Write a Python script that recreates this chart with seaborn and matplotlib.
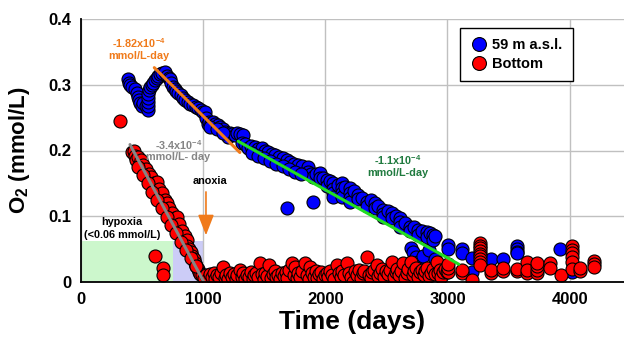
import matplotlib
matplotlib.use("Agg")
import matplotlib.pyplot as plt
import seaborn as sns
import pandas as pd
from matplotlib.patches import Rectangle
from matplotlib.lines import Line2D

# ---------------- data ----------------
blue_days = [387, 395, 401, 420, 442, 455, 468, 475, 483, 496, 510, 530, 548, 548, 548, 548, 550, 558,
             565, 578, 590, 605, 620, 632, 645, 665, 687, 705, 718, 728, 740, 755, 770, 780, 795, 815,
             836, 855, 877, 895, 918, 940, 958, 985, 1000, 1015, 1025, 1040, 1050, 1065, 1080, 1095,
             1120, 1140, 1163, 1180, 1205, 1220, 1240, 1260, 1280, 1300, 1327, 1320, 1345, 1370, 1395,
             1425, 1450, 1480, 1505, 1530, 1560, 1590, 1620, 1650, 1685, 1686, 1710, 1740, 1775, 1810,
             1857, 1857, 1880, 1900, 1900, 1920, 1955, 1955, 1980, 2010, 2010, 2040, 2065, 2065, 2065,
             2065, 2100, 2135, 2135, 2135, 2135, 2165, 2200, 2200, 2200, 2200, 2235, 2270, 2270, 2300,
             2340, 2340, 2370, 2405, 2405, 2435, 2470, 2470, 2470, 2510, 2545, 2545, 2575, 2610, 2610,
             2610, 2650, 2690, 2690, 2700, 2720, 2720, 2740, 2760, 2730, 2760, 2760, 2795, 2800, 2830,
             2830, 2850, 2860, 2880, 2880, 2900, 2900, 3005, 3005, 3120, 3120, 3200, 3200, 3360, 3455,
             3570, 3570, 3570, 3570, 3920, 4020,
             1060, 1110, 1160, 1400, 1450, 1500, 1550, 1600, 1650, 1700, 1750, 1800]
blue_o2 = [0.308, 0.303, 0.300, 0.296, 0.293, 0.288, 0.281, 0.277, 0.273, 0.268, 0.272, 0.268, 0.262,
           0.268, 0.274, 0.280, 0.286, 0.292, 0.296, 0.300, 0.303, 0.307, 0.311, 0.314, 0.316, 0.318,
           0.319, 0.314, 0.311, 0.308, 0.303, 0.297, 0.293, 0.290, 0.288, 0.284, 0.280, 0.277, 0.274,
           0.271, 0.269, 0.266, 0.265, 0.262, 0.258, 0.259, 0.250, 0.240, 0.244, 0.242, 0.244, 0.240,
           0.239, 0.236, 0.232, 0.228, 0.221, 0.226, 0.225, 0.224, 0.226, 0.225, 0.224, 0.212, 0.210,
           0.204, 0.207, 0.206, 0.203, 0.204, 0.200, 0.198, 0.195, 0.193, 0.190, 0.188, 0.186, 0.113,
           0.183, 0.180, 0.178, 0.176, 0.175, 0.168, 0.165, 0.160, 0.122, 0.164, 0.166, 0.158, 0.158,
           0.155, 0.146, 0.153, 0.151, 0.142, 0.136, 0.130, 0.148, 0.151, 0.143, 0.136, 0.130, 0.145,
           0.143, 0.135, 0.128, 0.122, 0.138, 0.133, 0.126, 0.128, 0.122, 0.115, 0.124, 0.120, 0.112,
           0.115, 0.110, 0.104, 0.099, 0.108, 0.105, 0.097, 0.100, 0.098, 0.091, 0.084, 0.090, 0.084,
           0.077, 0.052, 0.045, 0.030, 0.038, 0.030, 0.083, 0.079, 0.071, 0.078, 0.040, 0.076, 0.068,
           0.048, 0.074, 0.072, 0.064, 0.070, 0.035, 0.056, 0.050, 0.050, 0.044, 0.037, 0.015, 0.035,
           0.035, 0.054, 0.050, 0.046, 0.044, 0.050, 0.015,
           0.236, 0.232, 0.226, 0.196, 0.192, 0.189, 0.184, 0.180, 0.176, 0.172, 0.168, 0.165]

red_days = [318, 420, 430, 445, 450, 465, 480, 490, 500, 510, 520, 530, 540, 555, 565, 575, 590, 600,
            606, 610, 622, 630, 640, 655, 665, 671, 671, 680, 690, 703, 710, 720, 735, 745, 760, 770,
            785, 790, 800, 815, 830, 840, 850, 867, 870, 885, 900, 910, 925, 933, 945, 955, 965, 975,
            990, 1010, 1025, 1040, 1055, 1070, 1085, 1100, 1115, 1130, 1145, 1165, 1175, 1190, 1205,
            1220, 1235, 1250, 1265, 1280, 1300, 1315, 1330, 1345, 1360, 1375, 1390, 1405, 1420, 1435,
            1450, 1465, 1480, 1495, 1510, 1525, 1540, 1555, 1570, 1585, 1600, 1615, 1630, 1645, 1660,
            1675, 1690, 1705, 1725, 1740, 1750, 1765, 1780, 1795, 1810, 1835, 1850, 1865, 1875, 1890,
            1905, 1920, 1935, 1950, 1965, 1980, 1995, 2010, 2025, 2040, 2055, 2070, 2095, 2110, 2125,
            2140, 2155, 2180, 2195, 2210, 2230, 2245, 2260, 2275, 2290, 2305, 2320, 2340, 2355, 2370,
            2385, 2400, 2420, 2435, 2450, 2465, 2480, 2495, 2510, 2530, 2545, 2560, 2575, 2590, 2605,
            2620, 2635, 2650, 2665, 2680, 2700, 2715, 2730, 2745, 2760, 2775, 2790, 2805, 2820, 2835,
            2850, 2865, 2880, 2895, 2915, 2920, 2935, 2950, 2965, 2980, 2995, 3005, 3005, 3005, 3120,
            3120, 3200, 3265, 3265, 3265, 3265, 3265, 3265, 3265, 3265, 3265, 3360, 3360, 3455, 3455,
            3570, 3570, 3650, 3650, 3650, 3730, 3730, 3730, 3730, 3840, 3840, 3930, 4020, 4020, 4020,
            4020, 4020, 4020, 4085, 4085, 4200, 4200, 4200,
            470, 505, 545, 585, 625, 660, 700, 740, 780, 820, 860, 900, 940]
red_o2 = [0.245, 0.197, 0.200, 0.192, 0.186, 0.190, 0.180, 0.186, 0.174, 0.178, 0.168, 0.172, 0.160,
          0.165, 0.152, 0.160, 0.145, 0.150, 0.040, 0.138, 0.152, 0.132, 0.142, 0.125, 0.135, 0.022,
          0.010, 0.115, 0.125, 0.120, 0.108, 0.112, 0.098, 0.105, 0.090, 0.098, 0.099, 0.082, 0.088,
          0.075, 0.078, 0.065, 0.070, 0.064, 0.055, 0.050, 0.046, 0.040, 0.035, 0.029, 0.024, 0.020,
          0.015, 0.012, 0.010, 0.006, 0.010, 0.004, 0.012, 0.007, 0.014, 0.005, 0.010, 0.008, 0.013,
          0.023, 0.006, 0.011, 0.005, 0.014, 0.008, 0.012, 0.004, 0.010, 0.018, 0.007, 0.013, 0.005,
          0.011, 0.008, 0.015, 0.004, 0.010, 0.013, 0.007, 0.029, 0.012, 0.005, 0.014, 0.009, 0.026,
          0.006, 0.012, 0.016, 0.007, 0.011, 0.004, 0.013, 0.009, 0.015, 0.006, 0.018, 0.029, 0.010,
          0.023, 0.006, 0.014, 0.008, 0.016, 0.029, 0.011, 0.005, 0.023, 0.013, 0.008, 0.017, 0.006,
          0.012, 0.015, 0.004, 0.010, 0.014, 0.007, 0.016, 0.011, 0.005, 0.026, 0.013, 0.008, 0.017,
          0.011, 0.029, 0.014, 0.007, 0.000, 0.016, 0.010, 0.018, 0.006, 0.013, 0.017, 0.038, 0.011,
          0.006, 0.015, 0.019, 0.026, 0.009, 0.014, 0.020, 0.007, 0.016, 0.012, 0.019, 0.031, 0.008,
          0.015, 0.020, 0.011, 0.017, 0.029, 0.006, 0.014, 0.020, 0.030, 0.010, 0.016, 0.021, 0.008,
          0.015, 0.019, 0.011, 0.017, 0.022, 0.009, 0.014, 0.020, 0.012, 0.031, 0.014, 0.018, 0.008,
          0.015, 0.020, 0.015, 0.015, 0.022, 0.028, 0.013, 0.018, 0.003, 0.059, 0.055, 0.051, 0.047,
          0.043, 0.039, 0.035, 0.031, 0.026, 0.013, 0.018, 0.016, 0.021, 0.016, 0.020, 0.030, 0.013,
          0.018, 0.013, 0.018, 0.024, 0.029, 0.029, 0.022, 0.011, 0.054, 0.048, 0.044, 0.038, 0.031,
          0.020, 0.016, 0.022, 0.032, 0.028, 0.023,
          0.175, 0.163, 0.150, 0.137, 0.124, 0.112, 0.099, 0.087, 0.074, 0.061, 0.049, 0.037, 0.025]

# trend lines (fitted rates)
orange_days = [600, 1300]
orange_o2 = [0.326, 0.197]
green_days = [1287, 3093]
green_o2 = [0.214, 0.027]
gray_days = [401, 1006]
gray_o2 = [0.209, 0.0]

hypoxia_limit = 0.0625
hypoxia_end = 750
anoxia_day = 1000

series_labels = ["59 m a.s.l.", "Bottom"]
x_ticks = [0, 1000, 2000, 3000, 4000]
y_ticks = [0, 0.1, 0.2, 0.3, 0.4]
y_tick_labels = ["0", "0.1", "0.2", "0.3", "0.4"]

# ---------------- style ----------------
sns.set_style("white")
plt.rcParams["font.family"] = ["Liberation Sans", "DejaVu Sans"]
plt.rcParams["font.weight"] = "bold"
plt.rcParams["text.color"] = "black"
plt.rcParams["axes.labelcolor"] = "black"
plt.rcParams["xtick.color"] = "black"
plt.rcParams["ytick.color"] = "black"
plt.rcParams["mathtext.fontset"] = "custom"
plt.rcParams["mathtext.rm"] = "Liberation Sans:bold"
plt.rcParams["mathtext.it"] = "Liberation Sans:bold"
plt.rcParams["mathtext.bf"] = "Liberation Sans:bold"

ORANGE = "#f07a1a"
GREEN_LINE = "#22dd22"
GREEN_TXT = "#1f7a3e"
GRAY = "#858585"

fig = plt.figure(figsize=(6.24, 3.37), dpi=100)
ax = fig.add_axes([81 / 624, 55 / 337, 543 / 624, 263 / 337])

# shaded regions
ax.add_patch(Rectangle((0, 0), hypoxia_end, hypoxia_limit, facecolor="#ccf7cc", edgecolor="none", zorder=0))
ax.add_patch(Rectangle((hypoxia_end, 0), anoxia_day - hypoxia_end, hypoxia_limit,
                       facecolor="#ccccf7", edgecolor="none", zorder=0))

blue_df = pd.DataFrame({"day": blue_days, "o2": blue_o2})
red_df = pd.DataFrame({"day": red_days, "o2": red_o2})

sns.scatterplot(data=blue_df, x="day", y="o2", ax=ax, color="#0000ff", edgecolor="black",
                linewidth=0.8, s=88, zorder=3, legend=False)
sns.scatterplot(data=red_df, x="day", y="o2", ax=ax, color="#ff0000", edgecolor="black",
                linewidth=0.8, s=88, zorder=3.5, legend=False)

sns.lineplot(x=orange_days, y=orange_o2, ax=ax, color=ORANGE, lw=2.2, zorder=5)
sns.lineplot(x=green_days, y=green_o2, ax=ax, color=GREEN_LINE, lw=2.2, zorder=5)
sns.lineplot(x=gray_days, y=gray_o2, ax=ax, color=GRAY, lw=2.2, zorder=5)

# annotations
fs = 7.8
ax.text(470, 0.363, r"-1.82x10$^{-4}$", color=ORANGE, fontsize=fs, ha="center", va="center", fontweight="bold")
ax.text(470, 0.343, "mmol/L-day", color=ORANGE, fontsize=fs, ha="center", va="center", fontweight="bold")
ax.text(800, 0.208, r"-3.4x10$^{-4}$", color=GRAY, fontsize=fs, ha="center", va="center", fontweight="bold", zorder=6)
ax.text(790, 0.190, "mmol/L- day", color=GRAY, fontsize=fs, ha="center", va="center", fontweight="bold", zorder=6)
ax.text(2595, 0.186, r"-1.1x10$^{-4}$", color=GREEN_TXT, fontsize=fs, ha="center", va="center", fontweight="bold")
ax.text(2595, 0.166, "mmol/L-day", color=GREEN_TXT, fontsize=fs, ha="center", va="center", fontweight="bold")
ax.text(1055, 0.154, "anoxia", color="black", fontsize=fs, ha="center", va="center", fontweight="bold")
ax.text(335, 0.091, "hypoxia", color="black", fontsize=fs, ha="center", va="center", fontweight="bold")
ax.text(335, 0.072, "(<0.06 mmol/L)", color="black", fontsize=fs, ha="center", va="center", fontweight="bold")
ax.annotate("", xy=(1023, 0.071), xytext=(1023, 0.137),
            arrowprops=dict(arrowstyle="-|>,head_width=0.35,head_length=0.9", color=ORANGE, lw=1.2,
                            mutation_scale=14, shrinkA=0, shrinkB=0), zorder=6)

# axes
ax.set_xlim(0, 4445)
ax.set_ylim(0, 0.4)
ax.set_xticks(x_ticks)
ax.set_xticklabels([str(t) for t in x_ticks])
ax.set_yticks(y_ticks)
ax.set_yticklabels(y_tick_labels)
ax.set_xticks([500, 1500, 2500, 3500], minor=True)
ax.set_yticks([0.05, 0.15, 0.25, 0.35], minor=True)
ax.tick_params(axis="both", which="both", direction="in", labelsize=12, color="black", labelcolor="black")
ax.tick_params(axis="both", which="major", length=0, pad=7)
ax.tick_params(axis="both", which="minor", length=6, width=1)
for lab in ax.get_xticklabels() + ax.get_yticklabels():
    lab.set_fontweight("bold")

ax.grid(True, which="major", color="#c0c0c0", lw=1)
ax.set_axisbelow(True)
for side in ["top", "right"]:
    ax.spines[side].set_visible(False)
for side in ["left", "bottom"]:
    ax.spines[side].set_color("black")
    ax.spines[side].set_linewidth(1.3)
    ax.spines[side].set_zorder(7)

ax.set_xlabel("Time (days)", fontsize=19, fontweight="bold", labelpad=2, color="black")
ax.set_ylabel(r"O$_2$ (mmol/L)", fontsize=16, fontweight="bold", labelpad=12, color="black")

handles = [Line2D([], [], marker="o", ls="none", markerfacecolor="#0000ff", markeredgecolor="black",
                  markersize=10, markeredgewidth=0.8),
           Line2D([], [], marker="o", ls="none", markerfacecolor="#ff0000", markeredgecolor="black",
                  markersize=10, markeredgewidth=0.8)]
leg = ax.legend(handles, series_labels, loc="upper right", bbox_to_anchor=(0.906, 0.966),
                prop={"weight": "bold", "size": 10.5}, frameon=True, fancybox=False, framealpha=1,
                edgecolor="black", handletextpad=0.3, borderpad=0.7, labelspacing=0.35,
                handlelength=1.2, borderaxespad=0, labelcolor="black")
leg.get_frame().set_linewidth(1.0)
leg.set_zorder(8)

fig.savefig("out.png", dpi=100)
